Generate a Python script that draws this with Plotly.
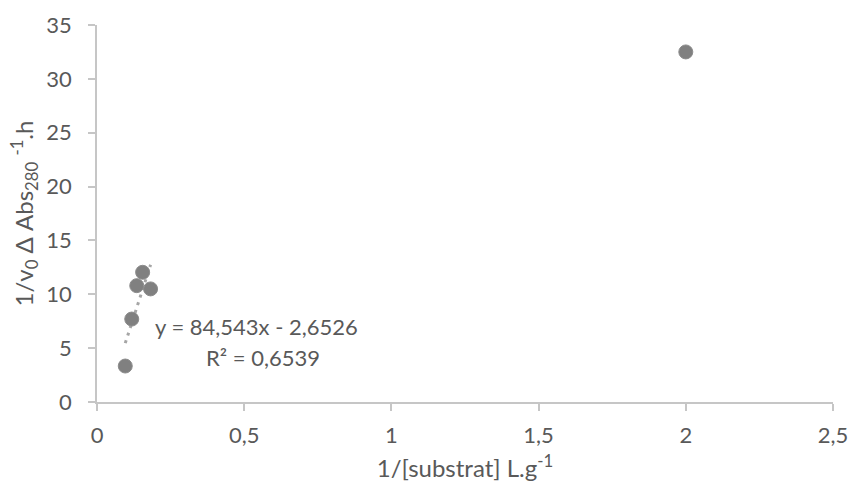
import plotly.graph_objects as go

# Data
x_fit = [0.096, 0.118, 0.135, 0.155, 0.182]
y_fit = [3.34, 7.7, 10.8, 12.04, 10.5]
x_other = [2.0]
y_other = [32.5]

slope = 84.543
intercept = -2.6526
r2 = 0.6539

x_ticks = [0, 0.5, 1, 1.5, 2, 2.5]
y_ticks = [0, 5, 10, 15, 20, 25, 30, 35]

FONT = "Lato"
TXT = "#595959"
AX = "#c6c6c6"
MK = "#808080"

fig = go.Figure()

x0, x1 = min(x_fit), max(x_fit)
fig.add_trace(go.Scatter(
    x=[x0, x1], y=[slope * x0 + intercept, slope * x1 + intercept],
    mode="lines", line=dict(color="#a6a6a6", width=3, dash="3px,5px"),
    hoverinfo="skip", showlegend=False))

fig.add_trace(go.Scatter(
    x=x_fit + x_other, y=y_fit + y_other, mode="markers",
    marker=dict(size=14, color=MK, line=dict(color="#8c8c8c", width=1)),
    showlegend=False))

fig.add_annotation(
    x=0.191, y=7.05, xref="x", yref="y",
    text="y = 84,543x - 2,6526",
    showarrow=False, xanchor="left", yanchor="middle",
    font=dict(family=FONT, size=22, color=TXT))
fig.add_annotation(
    x=0.763, y=4.15, xref="x", yref="y",
    text="R² = 0,6539",
    showarrow=False, xanchor="right", yanchor="middle",
    font=dict(family=FONT, size=22, color=TXT))

fig.update_layout(
    width=850, height=489,
    margin=dict(l=97, r=17, t=25, b=87),
    paper_bgcolor="white", plot_bgcolor="white",
    separators=", ",
    font=dict(family=FONT, size=22, color=TXT),
    xaxis=dict(
        range=[0, 2.5], tickvals=x_ticks, showgrid=False, zeroline=False,
        automargin=False,
        showline=True, linecolor=AX, linewidth=1.5,
        ticks="outside", ticklen=7, tickcolor=AX, tickwidth=1.5,
        ticklabelstandoff=6,
        tickfont=dict(family=FONT, size=22, color=TXT),
        title=dict(text="1/[substrat] L.g<sup>-1</sup>", standoff=13,
                   font=dict(family=FONT, size=24, color=TXT))),
    yaxis=dict(
        range=[0, 35], tickvals=y_ticks, showgrid=False, zeroline=False,
        automargin=False,
        showline=True, linecolor=AX, linewidth=1.5,
        ticks="outside", ticklen=7, tickcolor=AX, tickwidth=1.5,
        ticklabelstandoff=12,
        tickfont=dict(family=FONT, size=22, color=TXT),
        title=dict(text="1/v<sub>0</sub> Δ Abs<sub>280</sub> <sup>-1</sup>.h", standoff=6,
                   font=dict(family=FONT, size=24, color=TXT))),
)

fig.write_html("out.html",
               config={"displayModeBar": False},
               post_script="document.body.style.margin='0';document.body.style.overflow='hidden';")
